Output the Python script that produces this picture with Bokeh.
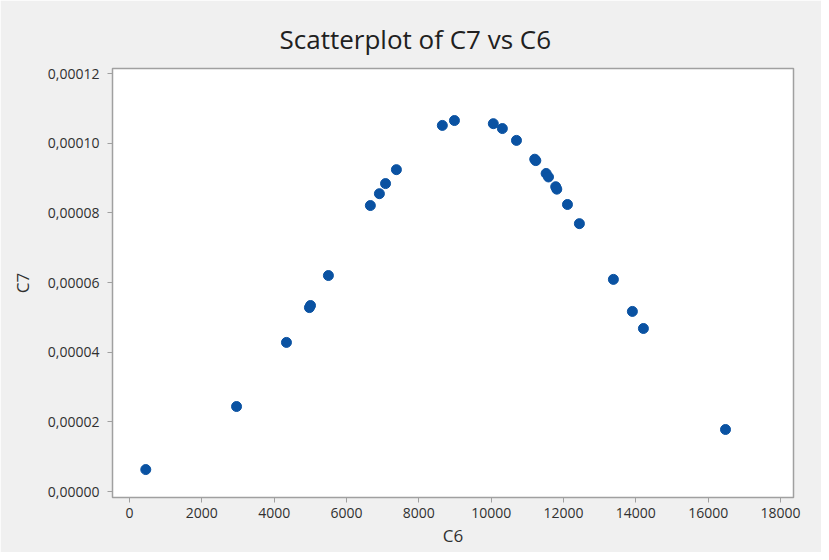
from bokeh.plotting import figure
from bokeh.models import ColumnDataSource, FixedTicker, CustomJSTickFormatter, Range1d
from bokeh.embed import file_html
from bokeh.resources import INLINE

title_text = "Scatterplot of C7 vs C6"
x_label = "C6"
y_label = "C7"

c6 = [450, 2960, 4340, 4975, 5005, 5500, 6660, 6910, 7080, 7380, 8650, 8985,
      10060, 10310, 10700, 11205, 11235, 11520, 11585, 11785, 11815, 12110,
      12440, 13380, 13905, 14210, 16480]
c7 = [0.0000063, 0.0000244, 0.0000428, 0.0000528, 0.0000534, 0.0000620,
      0.0000821, 0.0000855, 0.0000884, 0.0000924, 0.0001051, 0.0001065,
      0.0001056, 0.0001042, 0.0001008, 0.0000954, 0.0000950, 0.0000913,
      0.0000903, 0.0000875, 0.0000868, 0.0000824, 0.0000769, 0.0000609,
      0.0000517, 0.0000468, 0.0000178]

x_ticks = [0, 2000, 4000, 6000, 8000, 10000, 12000, 14000, 16000, 18000]
y_ticks = [0.0, 0.00002, 0.00004, 0.00006, 0.00008, 0.00010, 0.00012]

FONT = "Open Sans"
BG = "#f0f0f0"
GRAY = "#a0a0a0"
TXT = "#303030"

src = ColumnDataSource(dict(x=c6, y=c7))

p = figure(width=821, height=552, output_backend="svg", toolbar_location=None,
           x_range=Range1d(-470, 18360), y_range=Range1d(-0.00000172, 0.00012144),
           min_border_left=112, min_border_right=28, min_border_top=68, min_border_bottom=55,
           title=title_text)
p.border_fill_color = BG
p.background_fill_color = "white"
p.outline_line_color = GRAY
p.outline_line_width = 1.5
p.grid.visible = False

p.title.align = "left"
p.title.offset = 167
p.title.text_font = FONT
p.title.text_font_size = "26px"
p.title.text_font_style = "normal"
p.title.text_color = "#202020"
p.title.standoff = 23

p.scatter("x", "y", source=src, size=10, fill_color="#0a52a2", line_color="#0a52a2")

p.xaxis.ticker = FixedTicker(ticks=x_ticks)
p.yaxis.ticker = FixedTicker(ticks=y_ticks)
p.yaxis.formatter = CustomJSTickFormatter(code="return tick.toFixed(5).replace('.', ',');")
p.xaxis.formatter = CustomJSTickFormatter(code="return tick.toFixed(0);")

for ax in (p.xaxis[0], p.yaxis[0]):
    ax.axis_line_color = None
    ax.major_tick_line_color = GRAY
    ax.major_tick_in = 0
    ax.major_tick_out = 5
    ax.minor_tick_line_color = None
    ax.major_label_text_font = FONT
    ax.major_label_text_font_size = "14px"
    ax.major_label_text_color = TXT
    ax.axis_label_text_font = FONT
    ax.axis_label_text_font_size = "17px"
    ax.axis_label_text_font_style = "normal"
    ax.axis_label_text_color = TXT

p.xaxis.axis_label = x_label
p.yaxis.axis_label = y_label
p.xaxis.major_label_standoff = 5
p.yaxis.major_label_standoff = 8
p.xaxis.axis_label_standoff = 3
p.yaxis.axis_label_standoff = 11

open("out.html", "w").write(file_html(p, INLINE))
